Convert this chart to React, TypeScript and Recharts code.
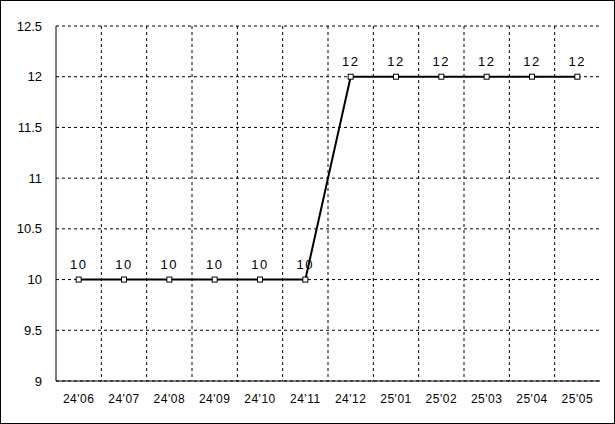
import React from 'react';
import {
  LineChart, Line, XAxis, YAxis, CartesianGrid, LabelList,
} from 'recharts';

const months = ["24'06", "24'07", "24'08", "24'09", "24'10", "24'11", "24'12", "25'01", "25'02", "25'03", "25'04", "25'05"];
const values = [10, 10, 10, 10, 10, 10, 12, 12, 12, 12, 12, 12];
const yTicks = [9, 9.5, 10, 10.5, 11, 11.5, 12, 12.5];

const data = months.map((m, i) => ({ month: m, value: values[i] }));

const FONT = '"Liberation Sans", Arial, sans-serif';

const SquareDot = (props: any) => {
  const { cx, cy, index } = props;
  if (cx == null || cy == null) return null;
  return <rect key={`dot-${index}`} x={cx - 2.5} y={cy - 2.5} width={5} height={5} fill="#fff" stroke="#000" strokeWidth={1} />;
};

// vertical grid lines sit on the category band boundaries
const bandBoundaries = ({ offset }: any) => {
  const step = offset.width / months.length;
  return months.slice(1).map((_, i) => offset.left + step * (i + 1));
};

export default function App() {
  return (
    <div style={{ position: 'fixed', left: 0, top: 0, width: 615, height: 424, background: '#fff', fontFamily: FONT }}>
      <LineChart
        width={615}
        height={424}
        data={data}
        margin={{ top: 26, right: 15, bottom: 0, left: 0 }}
      >
        <CartesianGrid
          stroke="#000"
          strokeDasharray="3 3"
          verticalCoordinatesGenerator={bandBoundaries}
        />
        <XAxis
          dataKey="month"
          scale="band"
          height={43}
          axisLine={{ stroke: '#000' }}
          tickLine={false}
          tickSize={6}
          tickMargin={7}
          interval={0}
          tick={{ fill: '#000', fontSize: 12, fontFamily: FONT, letterSpacing: 0.5 }}
        />
        <XAxis xAxisId="top" dataKey="month" orientation="top" height={0} tick={false} tickLine={false} axisLine={{ stroke: '#808080' }} />
        <YAxis
          domain={[9, 12.5]}
          ticks={yTicks}
          width={56}
          axisLine={{ stroke: '#000' }}
          tickLine={false}
          tickSize={6}
          tickMargin={8}
          tick={{ fill: '#000', fontSize: 13, fontFamily: FONT }}
        />
        <YAxis yAxisId="right" orientation="right" width={0} tick={false} tickLine={false} axisLine={{ stroke: '#808080' }} />
        <Line
          dataKey="value"
          stroke="#000"
          strokeWidth={2}
          dot={<SquareDot />}
          activeDot={false}
          isAnimationActive={false}
        >
          <LabelList dataKey="value" position="top" offset={11} style={{ fill: '#000', fontSize: 13, fontFamily: FONT, letterSpacing: 1.5 }} />
        </Line>
      </LineChart>
      <div style={{ position: 'absolute', left: 0, top: 0, width: 615, height: 424, boxSizing: 'border-box', border: '1px solid #000', pointerEvents: 'none' }} />
    </div>
  );
}
